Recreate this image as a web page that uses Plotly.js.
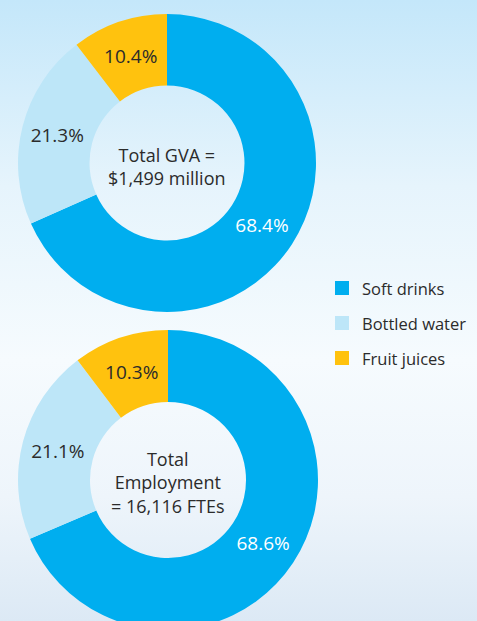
<!DOCTYPE html>
<html><head><meta charset="utf-8">
<script src="https://cdn.plot.ly/plotly-3.0.1.min.js"></script>
<style>
html,body{margin:0;padding:0;width:477px;height:621px;overflow:hidden;
background:linear-gradient(to bottom,#c4e7fa 0%,#e6f4fc 30%,#f6fbfe 58%,#eef5fb 80%,#dce9f5 100%);}
#chart{width:477px;height:640px;}
</style></head><body>
<div id="chart"></div>
<script>
const categories = ["Soft drinks", "Bottled water", "Fruit juices"];
const gvaShares = [68.4, 21.3, 10.4];
const employmentShares = [68.6, 21.1, 10.3];
const gvaCentreText = "Total GVA =<br>$1,499 million";
const employmentCentreText = "Total<br>Employment<br>= 16,116 FTEs";
const colors = ["#00aeef", "#bde6f8", "#ffc20e"];
const textColors = ["#ffffff", "#2b2b2b", "#2b2b2b"];

const W = 477, H = 640;
const FONT = "Open Sans, Noto Sans, sans-serif";

function pieTrace(vals, xd, yd) {
  return {
    type: "pie", values: vals, labels: categories, sort: false,
    direction: "clockwise", rotation: 0, hole: 0.52,
    marker: {colors: colors, line: {width: 0}},
    texttemplate: "%{value:.1f}%", textposition: "inside",
    insidetextorientation: "horizontal",
    textfont: {family: FONT, size: 19, color: textColors},
    hoverinfo: "label+value",
    domain: {x: xd, y: yd}, showlegend: false
  };
}

const traces = [
  pieTrace(gvaShares, [18/W, 316/W], [1-312/H, 1-14/H]),
  pieTrace(employmentShares, [18/W, 318/W], [1-630/H, 1-330/H])
];

const annotations = [
  {text: gvaCentreText, x: 167/W, y: 1-166/H, xref: "paper", yref: "paper",
   xanchor: "center", yanchor: "middle",
   showarrow: false, font: {family: FONT, size: 18, color: "#2b2b2b"}, align: "center"},
  {text: employmentCentreText, x: 168/W, y: 1-482/H, xref: "paper", yref: "paper",
   xanchor: "center", yanchor: "middle",
   showarrow: false, font: {family: FONT, size: 18, color: "#2b2b2b"}, align: "center"}
];
const shapes = [];
const legendY = [288, 323, 358];
categories.forEach((c, i) => {
  shapes.push({type: "rect", xref: "paper", yref: "paper",
    x0: 335/W, x1: 349/W, y0: 1-(legendY[i]+7)/H, y1: 1-(legendY[i]-7)/H,
    fillcolor: colors[i], line: {width: 0}});
  annotations.push({text: c, x: 360/W, y: 1-legendY[i]/H, xref: "paper", yref: "paper",
    xanchor: "left", yanchor: "middle", showarrow: false,
    font: {family: FONT, size: 16.5, color: "#2b2b2b"}});
});

Plotly.newPlot("chart", traces, {
  width: W, height: H, margin: {l: 0, r: 0, t: 0, b: 0},
  paper_bgcolor: "rgba(0,0,0,0)", plot_bgcolor: "rgba(0,0,0,0)",
  annotations: annotations, shapes: shapes, showlegend: false
}, {displayModeBar: false, staticPlot: true});
</script>
</body></html>
